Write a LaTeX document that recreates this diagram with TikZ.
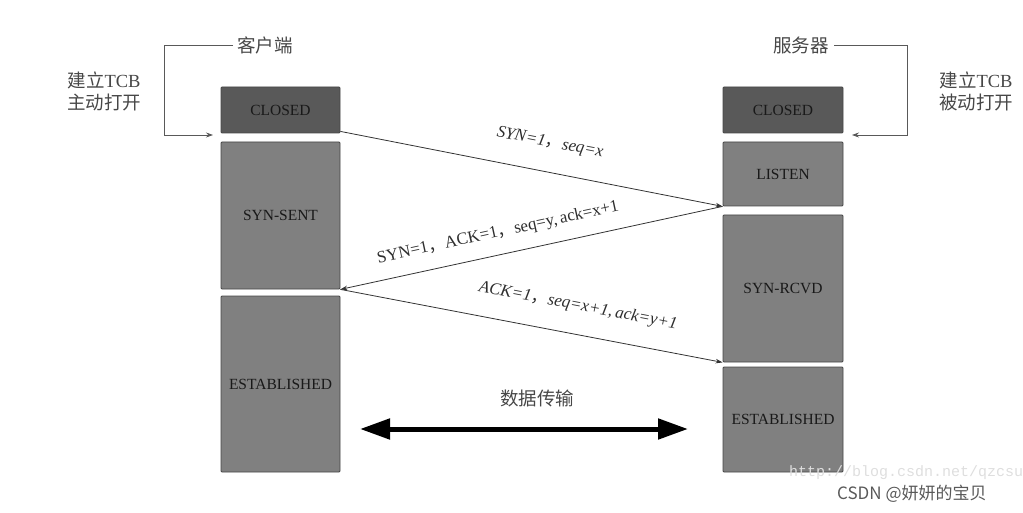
\documentclass[tikz,border=0pt]{standalone}
\usepackage{fontspec}
\setmainfont{Liberation Serif}
\newfontfamily\cjk{Noto Sans CJK SC}
\newfontfamily\wmono{Liberation Mono}
\usetikzlibrary{arrows.meta}
\begin{document}
\begin{tikzpicture}[x=1pt,y=-1pt,
  state/.style={draw=black!72, line width=0.8pt, rounded corners=1pt, text=black!90,
    font=\fontsize{15.5}{15.5}\selectfont, inner sep=0pt},
  closedst/.style={state, fill=black!65},
  openst/.style={state, fill=black!50},
  msg/.style={draw=black!80, line width=0.8pt, -{Stealth[length=7pt,width=4.5pt]}},
  msglabel/.style={text=black!82, font=\fontsize{17}{17}\selectfont, inner sep=0pt},
  bracket/.style={draw=black!65, line width=0.8pt, -{Stealth[length=7pt,width=5pt]}},
  cjklabel/.style={text=black!72, font=\cjk\fontsize{18.5}{22}\selectfont, inner sep=0pt, align=center},
  bigarrow/.style={line width=5pt, {Triangle[length=30pt,width=20pt]}-{Triangle[length=30pt,width=20pt]}}
]
\useasboundingbox (0,0) rectangle (1023,513);

% client column
\node[closedst, minimum width=119pt, minimum height=46pt] (cL) at (280.5,110) {CLOSED};
\node[openst, minimum width=119pt, minimum height=147pt] (ssL) at (280.5,215.5) {SYN-SENT};
\node[openst, minimum width=119pt, minimum height=176pt] (estL) at (280.5,384) {ESTABLISHED};

% server column
\node[closedst, minimum width=120pt, minimum height=46pt] (cR) at (783,110) {CLOSED};
\node[openst, minimum width=120pt, minimum height=64pt] (lsR) at (783,174) {LISTEN};
\node[openst, minimum width=120pt, minimum height=147pt] (srR) at (783,288.5) {SYN-RCVD};
\node[openst, minimum width=120pt, minimum height=105pt] (estR) at (783,419.5) {ESTABLISHED};

% handshake messages
\draw[msg] ([yshift=2pt]cL.south east) -- (lsR.south west);
\draw[msg] (lsR.south west) -- (ssL.south east);
\draw[msg] (ssL.south east) -- (srR.south west);

\node[msglabel, rotate=-11] (m1) at (550,143) {\itshape SYN=1{\cjk ，}seq=x};
\node[msglabel, rotate=12.2] (m2) at (498,233) {SYN=1{\cjk ，}ACK=1{\cjk ，}seq=y,\,ack=x+1};
\node[msglabel, rotate=-10.8] (m3) at (578,306) {\itshape ACK=1{\cjk ，}seq=x+1,\,ack=y+1};

% client bracket
\node[cjklabel, anchor=west, inner xsep=4pt] (client) at (233,45) {客户端};
\node[cjklabel] (copen) at (104,91) {建立{\rmfamily TCB}\\主动打开};
\coordinate (lb) at (164,135);
\coordinate (cLin) at (213,135);
\draw[bracket] (client.west) -| (lb) -- (cLin);

% server bracket
\node[cjklabel, anchor=east, inner xsep=5pt] (server) at (834,45) {服务器};
\node[cjklabel] (sopen) at (976,91) {建立{\rmfamily TCB}\\被动打开};
\coordinate (rb) at (907,135);
\coordinate (cRin) at (852,135);
\draw[bracket] (server.east) -| (rb) -- (cRin);

% data transfer
\node[cjklabel] (data) at (537,398) {数据传输};
\coordinate (dL) at (360,429);
\coordinate (dR) at (688,429);
\draw[bigarrow] (dL) -- (dR);

% watermarks
\node[anchor=west, text=black!13, font=\wmono\fontsize{15}{15}\selectfont, inner sep=0pt] (wm) at (789,473) {http://blog.csdn.net/qzcsu};
\node[anchor=west, text=black!65, font=\cjk\fontsize{17}{17}\selectfont, inner sep=0pt] (csdn) at (837,494) {CSDN @妍妍的宝贝};
\end{tikzpicture}
\end{document}
